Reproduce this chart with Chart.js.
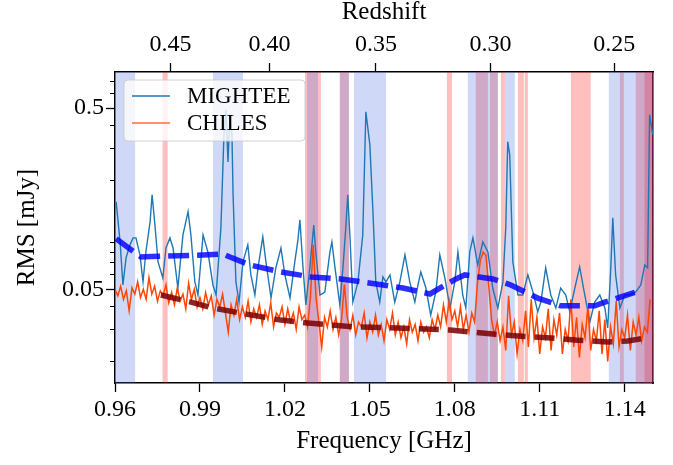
<!DOCTYPE html>
<html>
<head>
<meta charset="utf-8">
<script src="https://cdn.jsdelivr.net/npm/chart.js@4.4.0/dist/chart.umd.min.js"></script>
<style>
  html, body { margin: 0; padding: 0; background: #fff; }
  #wrap { width: 673px; height: 465px; }
</style>
</head>
<body>
<div id="wrap"><canvas id="chart" width="673" height="465"></canvas></div>
<script>
"use strict";

// axis ranges and ticks
const freqMin = 0.96;
const freqMax = 1.15;
const rmsMin = 0.0152;
const rmsMax = 0.79;
const hiRest = 1.420405; // GHz, used for the redshift axis
const freqTicks = [0.96, 0.99, 1.02, 1.05, 1.08, 1.11, 1.14];
const redshiftTicks = [0.45, 0.40, 0.35, 0.30, 0.25];
const rmsTicks = [0.05, 0.5];
const rmsMinorTicks = [0.02, 0.03, 0.04, 0.06, 0.07, 0.08, 0.09, 0.2, 0.3, 0.4, 0.6, 0.7];

// MIGHTEE rms spectrum (GHz, mJy)
const mighteeFreq = [0.9604,0.9618,0.9628,0.9639,0.9653,0.9664,0.9674,0.9688,0.9699,0.9709,
  0.9724,0.9731,0.9741,0.9752,0.9769,0.9780,0.9794,0.9805,0.9822,0.9840,
  0.9858,0.9868,0.9882,0.9893,0.9911,0.9928,0.9946,0.9957,0.9974,0.9985,
  0.9992,0.9999,1.0006,1.0013,1.0017,1.0027,1.0038,1.0052,1.0069,1.0080,
  1.0094,1.0105,1.0122,1.0133,1.0151,1.0168,1.0186,1.0200,1.0218,1.0235,
  1.0246,1.0253,1.0264,1.0274,1.0288,1.0302,1.0309,1.0324,1.0341,1.0359,
  1.0366,1.0377,1.0394,1.0405,1.0415,1.0422,1.0430,1.0440,1.0458,1.0475,
  1.0486,1.0500,1.0511,1.0521,1.0535,1.0546,1.0557,1.0571,1.0588,1.0606,
  1.0624,1.0641,1.0659,1.0670,1.0680,1.0698,1.0715,1.0733,1.0747,1.0765,
  1.0783,1.0800,1.0811,1.0828,1.0839,1.0853,1.0864,1.0881,1.0899,1.0917,
  1.0934,1.0952,1.0970,1.0980,1.0987,1.0994,1.1005,1.1023,1.1040,1.1058,
  1.1076,1.1093,1.1104,1.1121,1.1139,1.1157,1.1174,1.1192,1.1206,1.1224,
  1.1241,1.1259,1.1277,1.1294,1.1312,1.1330,1.1340,1.1351,1.1358,1.1368,
  1.1383,1.1400,1.1418,1.1439,1.1457,1.1471,1.1481,1.1488,1.1499];
const mighteeRms = [0.152,0.0913,0.0528,0.0745,0.0879,0.096,0.096,0.0774,0.0549,0.0803,
  0.118,0.166,0.113,0.0708,0.0577,0.0845,0.096,0.0845,0.0508,0.0998,
  0.134,0.0998,0.0549,0.0465,0.0998,0.0803,0.0528,0.0465,0.109,0.365,
  0.489,0.252,0.459,0.356,0.166,0.0549,0.0425,0.0708,0.0879,0.060,
  0.0465,0.0656,0.0973,0.0708,0.0448,0.0656,0.0845,0.060,0.0448,0.0708,
  0.0936,0.121,0.0656,0.041,0.0656,0.113,0.0803,0.0465,0.0483,0.0803,
  0.0913,0.0656,0.041,0.0656,0.109,0.166,0.096,0.0425,0.0549,0.0998,
  0.477,0.314,0.134,0.0549,0.0425,0.0585,0.0549,0.060,0.0425,0.0549,
  0.0774,0.0549,0.0425,0.0528,0.0623,0.0508,0.036,0.0483,0.0774,0.0577,
  0.0394,0.0549,0.0803,0.0465,0.0394,0.0803,0.096,0.0681,0.0913,0.0803,
  0.0508,0.0394,0.0549,0.109,0.326,0.276,0.0708,0.0465,0.0465,0.060,
  0.0483,0.0375,0.0425,0.0656,0.0465,0.0394,0.0508,0.0465,0.0375,0.0508,
  0.0664,0.0465,0.033,0.0425,0.0465,0.0394,0.0306,0.0656,0.124,0.060,
  0.0394,0.0465,0.0465,0.0483,0.0528,0.0681,0.0656,0.459,0.356];

// CHILES rms spectrum, one value per MHz from 0.960 GHz
const chilesStart = 0.960;
const chilesStep = 0.001;
const chilesRms = [
  0.050,0.046,0.052,0.044,0.049,0.038,0.051,0.047,0.055,0.045,
  0.050,0.044,0.058,0.047,0.052,0.043,0.049,0.046,0.053,0.042,
  0.048,0.041,0.051,0.043,0.047,0.039,0.054,0.044,0.050,0.040,
  0.045,0.039,0.048,0.041,0.046,0.036,0.044,0.040,0.047,0.037,
  0.029,0.041,0.036,0.044,0.034,0.040,0.035,0.043,0.033,0.039,
  0.035,0.041,0.032,0.038,0.034,0.042,0.031,0.037,0.035,0.040,
  0.032,0.039,0.033,0.037,0.030,0.040,0.034,0.036,0.031,0.045,
  0.088,0.045,0.033,0.024,0.035,0.031,0.038,0.030,0.035,0.028,
  0.034,0.053,0.035,0.030,0.036,0.028,0.033,0.031,0.037,0.027,
  0.033,0.029,0.036,0.028,0.032,0.026,0.034,0.030,0.037,0.028,
  0.033,0.027,0.031,0.025,0.034,0.029,0.032,0.026,0.033,0.029,
  0.031,0.027,0.034,0.030,0.036,0.031,0.041,0.033,0.043,0.034,
  0.038,0.031,0.040,0.030,0.036,0.029,0.037,0.033,0.054,0.072,
  0.080,0.077,0.052,0.034,0.028,0.033,0.026,0.031,0.023,0.046,
  0.028,0.033,0.022,0.030,0.026,0.038,0.024,0.044,0.027,0.035,
  0.022,0.031,0.027,0.039,0.023,0.034,0.028,0.037,0.022,0.030,
  0.026,0.044,0.024,0.035,0.021,0.032,0.027,0.040,0.023,0.030,
  0.026,0.038,0.022,0.034,0.020,0.031,0.025,0.043,0.024,0.030,
  0.027,0.036,0.023,0.033,0.028,0.035,0.026,0.031,0.029,0.044];

// smoothed trends (dashed)
const mighteeSmoothFreq = [0.9604,0.9692,0.9727,0.9911,0.9981,1.0006,1.0077,1.0186,1.0292,1.0398,1.0504,
  1.0617,1.0712,1.0804,1.0835,1.0934,1.0998,1.1093,1.1174,1.1294,1.1330,1.1436];
const mighteeSmoothRms = [0.095,0.0753,0.0758,0.0773,0.0783,0.0753,0.068,0.0623,0.0585,0.057,0.054,
  0.0508,0.0471,0.057,0.060,0.057,0.0528,0.0447,0.0405,0.0405,0.0425,0.048];
const chilesSmoothFreq = [0.9762,0.9865,0.9946,1.0041,1.0186,1.0281,1.0447,1.0617,1.0783,1.0934,
  1.1023,1.1139,1.1234,1.1340,1.1411,1.1471];
const chilesSmoothRms = [0.0465,0.0426,0.0394,0.037,0.0338,0.0326,0.031,0.0305,0.0298,0.0283,
  0.0276,0.0269,0.0262,0.0256,0.0259,0.0269];

// flagged frequency ranges (GHz)
const redBands = [[0.9768,0.9786],[1.0271,1.0327],[1.0394,1.0426],[1.0772,1.0790],[1.0874,1.0917],
  [1.0924,1.0952],[1.0963,1.0977],[1.1023,1.1044],[1.1047,1.1058],[1.1210,1.1280],
  [1.1383,1.1397],[1.1439,1.1500],[1.1470,1.1500]];
const blueBands = [[0.9600,0.9671],[0.9946,1.0052],[1.0278,1.0317],[1.0394,1.0426],[1.0444,1.0557],
  [1.0846,1.0952],[1.0977,1.1012],[1.1344,1.1500]];

function toPoints(xs, ys) {
  const pts = [];
  for (let i = 0; i < xs.length; i++) {
    pts.push({ x: xs[i], y: ys[i] });
  }
  return pts;
}

function chilesPoints() {
  const pts = [];
  for (let i = 0; i < chilesRms.length; i++) {
    pts.push({ x: +(chilesStart + i * chilesStep).toFixed(3), y: chilesRms[i] });
  }
  return pts;
}

// shaded bands behind the spectra
const bandPlugin = {
  id: "bands",
  beforeDatasetsDraw(chart) {
    const ctx = chart.ctx;
    const area = chart.chartArea;
    const xs = chart.scales.x;
    ctx.save();
    ctx.beginPath();
    ctx.rect(area.left, area.top, area.right - area.left, area.bottom - area.top);
    ctx.clip();
    const drawSet = (bands, color) => {
      ctx.fillStyle = color;
      bands.forEach(b => {
        const x1 = xs.getPixelForValue(b[0]);
        const x2 = xs.getPixelForValue(b[1]);
        ctx.fillRect(x1, area.top, x2 - x1, area.bottom - area.top);
      });
    };
    drawSet(redBands, "rgba(255,0,0,0.25)");
    drawSet(blueBands, "rgba(65,105,225,0.25)");
    ctx.restore();
  }
};

// matplotlib style legend box
const legendPlugin = {
  id: "legendBox",
  afterDatasetsDraw(chart) {
    const ctx = chart.ctx;
    const area = chart.chartArea;
    const x = area.left + 9;
    const y = area.top + 8;
    const w = 181;
    const h = 61;
    ctx.save();
    ctx.beginPath();
    ctx.roundRect(x, y, w, h, 4);
    ctx.fillStyle = "rgba(255,255,255,0.8)";
    ctx.fill();
    ctx.strokeStyle = "rgba(204,204,204,0.9)";
    ctx.lineWidth = 1;
    ctx.stroke();
    const entries = chart.data.datasets.filter(d => d.inLegend);
    entries.forEach((d, i) => {
      const ly = y + 16 + i * 27;
      ctx.beginPath();
      ctx.moveTo(x + 8, ly);
      ctx.lineTo(x + 46, ly);
      ctx.strokeStyle = d.legendColor;
      ctx.lineWidth = 1.5;
      ctx.stroke();
      ctx.fillStyle = "#000";
      ctx.font = "23px 'Liberation Serif'";
      ctx.textBaseline = "middle";
      ctx.fillText(d.label, x + 63, ly + 1);
    });
    ctx.restore();
  }
};

Chart.defaults.font.family = "'Liberation Serif', 'DejaVu Serif', serif";
Chart.defaults.color = "#000";

const tickFont = { size: 24 };
const titleFont = { size: 25, lineHeight: 1 };

const config = {
  type: "line",
  data: {
    datasets: [
      {
        label: "MIGHTEE",
        data: toPoints(mighteeFreq, mighteeRms),
        borderColor: "#1f77b4",
        legendColor: "#1f77b4",
        borderWidth: 1.4,
        pointRadius: 0,
        order: 4,
        inLegend: true
      },
      {
        label: "CHILES",
        data: chilesPoints(),
        borderColor: "#ff4500",
        legendColor: "rgb(255,110,70)",
        borderWidth: 1.5,
        pointRadius: 0,
        order: 3,
        inLegend: true
      },
      {
        label: "MIGHTEE trend",
        data: toPoints(mighteeSmoothFreq, mighteeSmoothRms),
        borderColor: "rgba(0,0,255,0.82)",
        borderWidth: 5.5,
        borderDash: [21, 8],
        pointRadius: 0,
        order: 2
      },
      {
        label: "CHILES trend",
        data: toPoints(chilesSmoothFreq, chilesSmoothRms),
        borderColor: "rgba(120,0,0,0.85)",
        borderWidth: 5.5,
        borderDash: [20, 9],
        pointRadius: 0,
        order: 1
      }
    ]
  },
  options: {
    responsive: false,
    animation: false,
    devicePixelRatio: 1,
    layout: { padding: { left: 0, right: 20, top: 0, bottom: 0 } },
    plugins: {
      legend: { display: false },
      tooltip: { enabled: false }
    },
    scales: {
      x: {
        type: "linear",
        position: "bottom",
        min: freqMin,
        max: freqMax,
        afterFit: s => { s.height = 82; },
        afterBuildTicks: s => { s.ticks = freqTicks.map(v => ({ value: v })); },
        ticks: { callback: v => v.toFixed(2), font: tickFont, padding: 3, maxRotation: 0, autoSkip: false },
        grid: { drawOnChartArea: false, tickLength: 9, tickWidth: 1.3, tickColor: "#000" },
        border: { color: "#000", width: 1.5 },
        title: { display: true, text: "Frequency [GHz]", font: titleFont, padding: { top: 0, bottom: 11 } }
      },
      x2: {
        type: "linear",
        position: "top",
        min: freqMin,
        max: freqMax,
        afterFit: s => { s.height = 72; },
        afterBuildTicks: s => { s.ticks = redshiftTicks.map(z => ({ value: hiRest / (1 + z) })); },
        ticks: { callback: (v, i) => redshiftTicks[i].toFixed(2), font: tickFont, padding: 4, maxRotation: 0, autoSkip: false },
        grid: { drawOnChartArea: false, tickLength: 9, tickWidth: 1.3, tickColor: "#000" },
        border: { color: "#000", width: 1.5 },
        title: { display: true, text: "Redshift", font: titleFont, padding: { top: 0, bottom: 0 } }
      },
      y: {
        type: "logarithmic",
        position: "left",
        weight: 1,
        min: rmsMin,
        max: rmsMax,
        afterFit: s => { s.width = 115; },
        afterBuildTicks: s => { s.ticks = rmsTicks.map(v => ({ value: v })); },
        ticks: { callback: v => String(v), font: tickFont, padding: 2, autoSkip: false },
        grid: { drawOnChartArea: false, tickLength: 9, tickWidth: 1.3, tickColor: "#000" },
        border: { color: "#000", width: 1.5 },
        title: { display: true, text: "RMS [mJy]", font: titleFont, padding: { top: 15, bottom: 0 } }
      },
      yMinor: {
        type: "logarithmic",
        position: "left",
        weight: 0,
        min: rmsMin,
        max: rmsMax,
        afterFit: s => { s.width = 0; },
        afterBuildTicks: s => { s.ticks = rmsMinorTicks.map(v => ({ value: v })); },
        ticks: { display: false },
        grid: { drawOnChartArea: false, tickLength: 5, tickWidth: 1, tickColor: "#000" },
        border: { display: false }
      },
      yRight: {
        type: "linear",
        position: "right",
        afterFit: s => { s.width = 0; },
        ticks: { display: false },
        grid: { display: false },
        border: { color: "#000", width: 1.5 }
      }
    }
  },
  plugins: [bandPlugin, legendPlugin]
};

const rmsChart = new Chart(document.getElementById("chart"), config);
</script>
</body>
</html>
